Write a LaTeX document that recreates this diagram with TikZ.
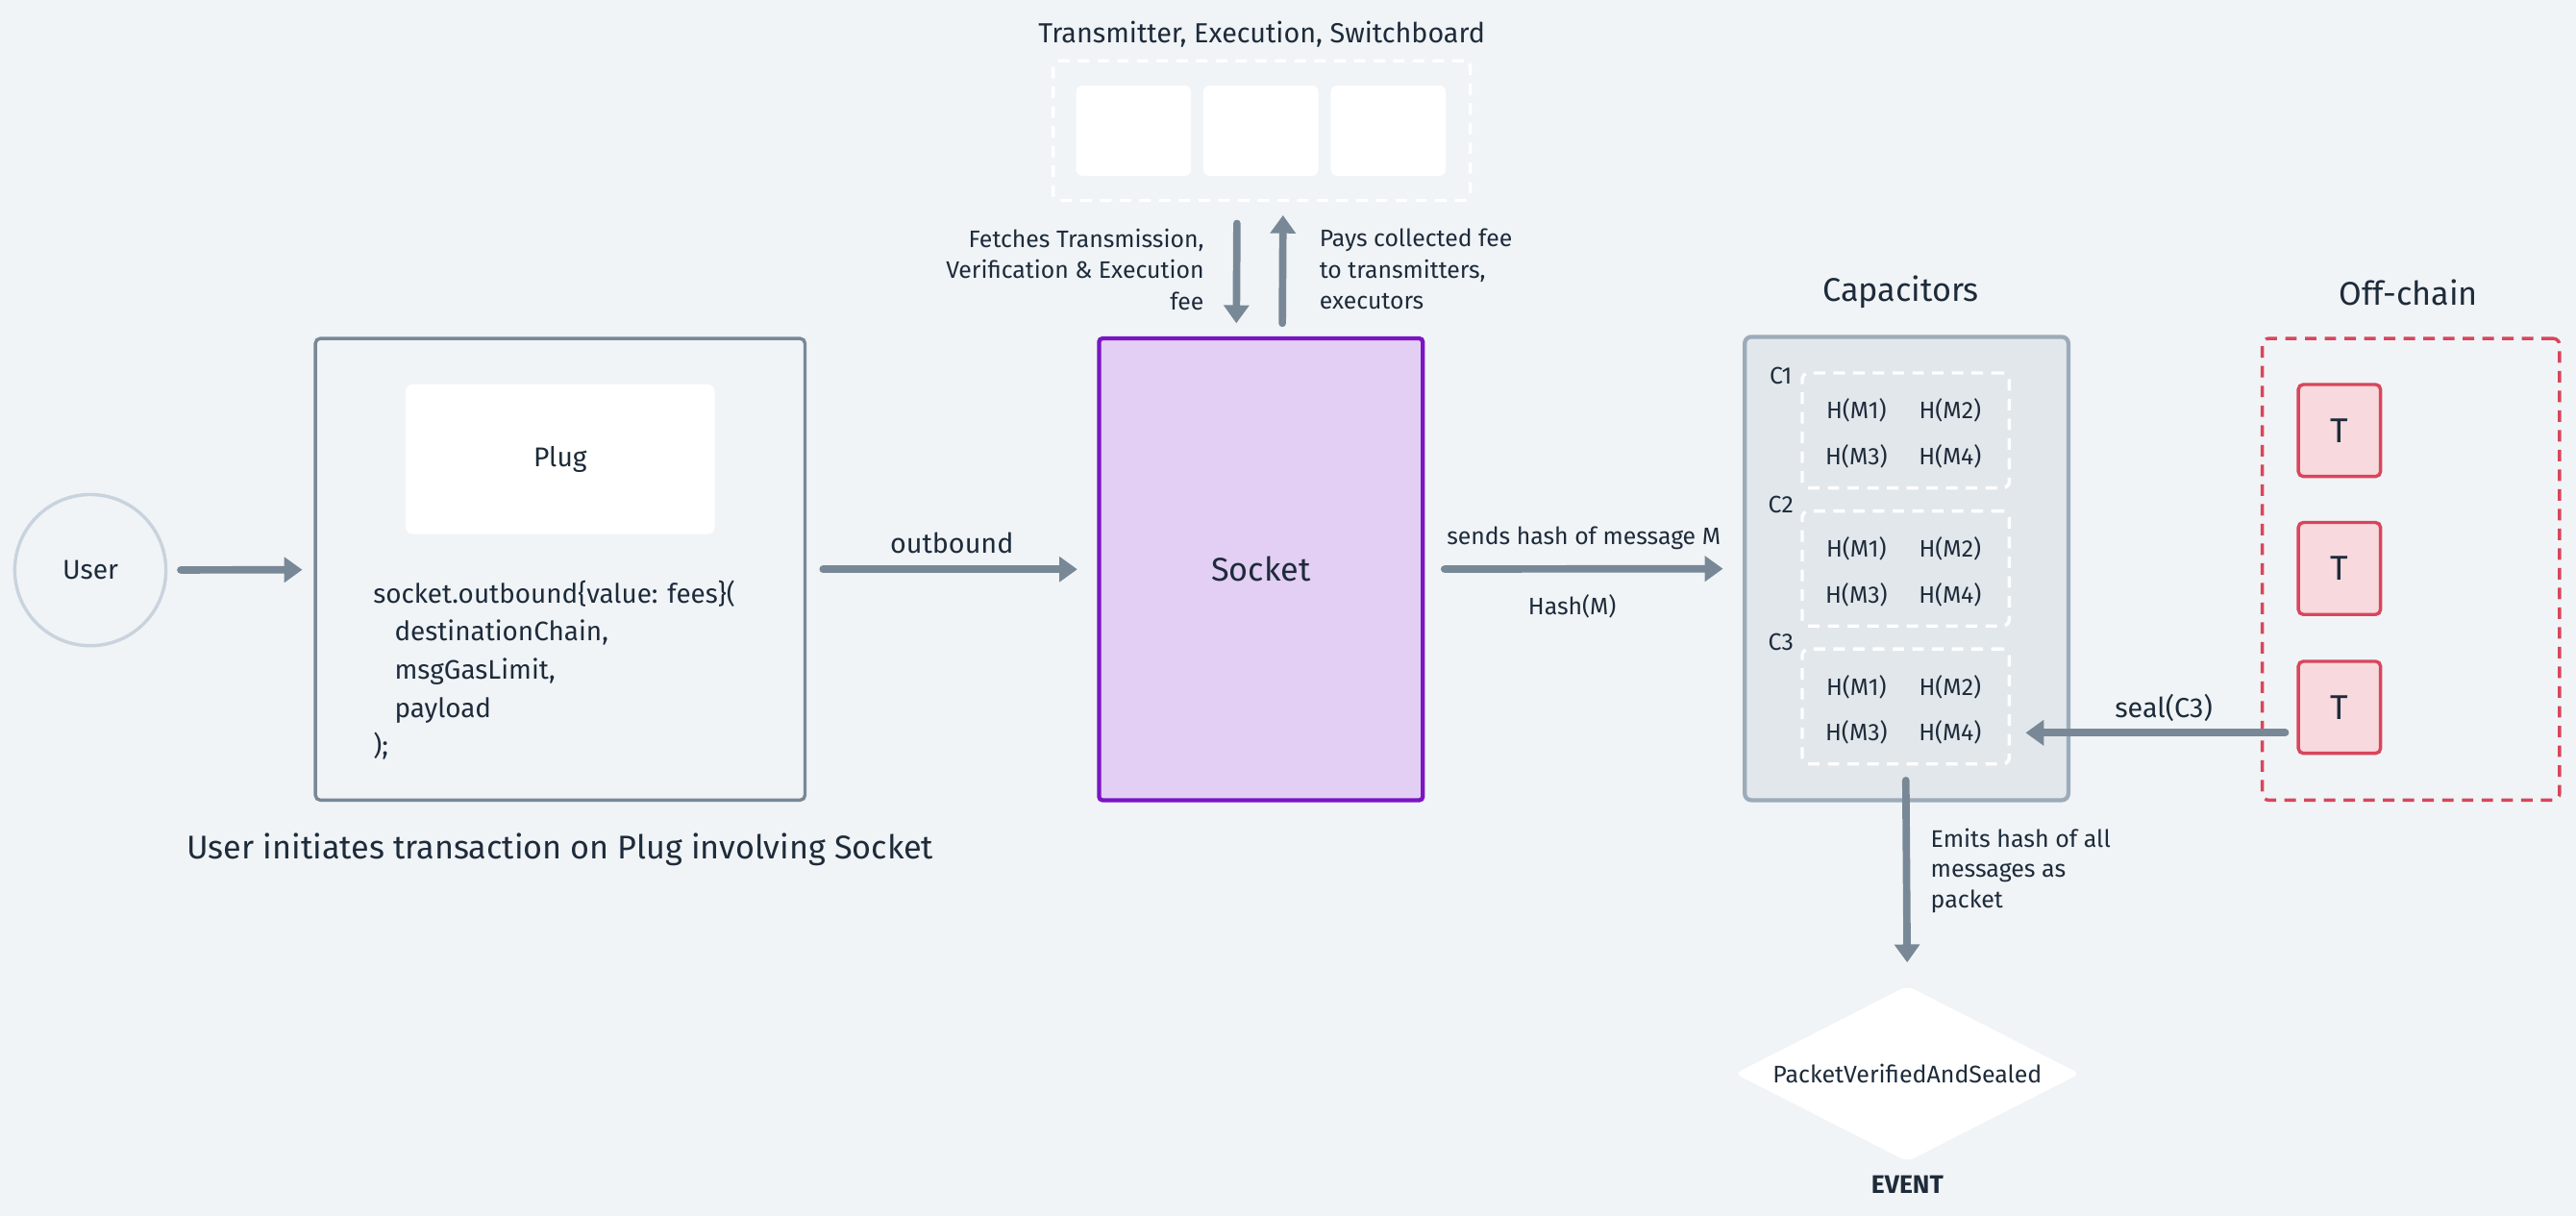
\documentclass[tikz,border=0pt]{standalone}
\usepackage{fontspec}
\setmainfont{Fira Sans}
\usetikzlibrary{arrows.meta,shapes.geometric}

\definecolor{bgcol}{HTML}{F0F4F7}
\definecolor{ink}{HTML}{1E2B3A}
\definecolor{flowgrey}{HTML}{788896}
\definecolor{usergrey}{HTML}{C9D3DD}
\definecolor{socketfill}{HTML}{E2CFF3}
\definecolor{socketline}{HTML}{7B15C4}
\definecolor{capfill}{HTML}{E2E7EC}
\definecolor{capline}{HTML}{9BABB9}
\definecolor{offred}{HTML}{D8465B}
\definecolor{tfill}{HTML}{F7D9DE}

\begin{document}
\begin{tikzpicture}[x=1pt, y=-1pt,
	every node/.style={text=ink},
	flow/.style={draw=flowgrey, line width=4.5pt, line cap=round, -{Triangle[width=15pt,length=11pt]}},
	smalltext/.style={font=\fontsize{14.5}{19}\selectfont, inner sep=0pt},
	midtext/.style={font=\fontsize{16.8}{20}\selectfont, inner sep=0pt},
	bigtext/.style={font=\fontsize{20}{24}\selectfont, inner sep=0pt},
	usercircle/.style={circle, draw=usergrey, line width=2pt, minimum size=92pt, inner sep=0pt, font=\fontsize{16.5}{18}\selectfont},
	plugbox/.style={draw=flowgrey, line width=2pt, rounded corners=3pt, minimum width=298pt, minimum height=281pt},
	whitebox/.style={fill=white, rounded corners=4pt, inner sep=0pt},
	socketbox/.style={draw=socketline, fill=socketfill, line width=2.5pt, rounded corners=2pt, minimum width=197pt, minimum height=281pt, font=\fontsize{20}{24}\selectfont},
	capbox/.style={draw=capline, fill=capfill, line width=2.5pt, rounded corners=4pt, minimum width=197pt, minimum height=282pt},
	dashgroup/.style={draw=white, line width=2pt, dash pattern=on 7pt off 5pt, rounded corners=4pt, minimum width=126pt, minimum height=70pt},
	redgroup/.style={draw=offred, line width=2pt, dash pattern=on 7pt off 5pt, rounded corners=4pt, minimum width=181pt, minimum height=281pt},
	tbox/.style={draw=offred, fill=tfill, line width=2pt, rounded corners=3pt, minimum width=50pt, minimum height=56pt, font=\fontsize{21}{24}\selectfont},
	eventdiamond/.style={diamond, aspect=1.96, fill=white, rounded corners=4pt, minimum width=210pt, minimum height=107pt, inner sep=0pt, font=\fontsize{14.6}{18}\selectfont}]

	\fill[bgcol] (0,0) rectangle (1568,740);

	% user and plug
	\node[usercircle] (user) at (55,347) {User};
	\node[plugbox] (plug) at (341,346.5) {};
	\node[whitebox, minimum width=188pt, minimum height=91pt, font=\fontsize{16.5}{18}\selectfont] (plugname) at (341,279.5) {Plug};
	\node[anchor=north west, align=left, inner sep=0pt, font=\fontsize{16.3}{23.2}\selectfont] (call) at (227,353) {socket.outbound\{value: fees\}(\\
		\hspace*{13pt}destinationChain,\\
		\hspace*{13pt}msgGasLimit,\\
		\hspace*{13pt}payload\\
		);};
	\node[font=\fontsize{20}{24}\selectfont, inner sep=0pt] (plugcaption) at (341,517) {User initiates transaction on Plug involving Socket};

	% socket and fee boxes
	\node[socketbox] (socket) at (767.5,346.5) {Socket};
	\node[midtext] (switchtitle) at (768,21) {Transmitter, Execution, Switchboard};
	\node[dashgroup, draw=white, minimum width=254pt, minimum height=85pt] (switch) at (768,79.5) {};
	\node[whitebox, minimum width=70pt, minimum height=55pt] (transmitter) at (690,79.5) {};
	\node[whitebox, minimum width=70pt, minimum height=55pt] (execution) at (767.5,79.5) {};
	\node[whitebox, minimum width=70pt, minimum height=55pt] (switchboard) at (845,79.5) {};
	\node[smalltext, anchor=east, align=right] (feelbl) at (733,164) {Fetches Transmission,\\Verification \& Execution\\fee};
	\node[smalltext, anchor=west, align=left] (paylbl) at (803,164) {Pays collected fee\\to transmitters,\\executors};

	% capacitors
	\node[capbox] (caps) at (1160.5,346) {};
	\node[bigtext] (captitle) at (1157,178) {Capacitors};
	\node[dashgroup] (grp1) at (1160,262) {};
	\node[dashgroup] (grp2) at (1160,346) {};
	\node[dashgroup] (grp3) at (1160,430) {};
	\node[smalltext] (c1) at (1084,229) {C1};
	\node[smalltext] (c2) at (1084,307) {C2};
	\node[smalltext] (c3) at (1084,391) {C3};
	\node[smalltext] (g1m1) at (1130,250) {H(M1)};
	\node[smalltext] (g1m2) at (1187,250) {H(M2)};
	\node[smalltext] (g1m3) at (1130,278) {H(M3)};
	\node[smalltext] (g1m4) at (1187,278) {H(M4)};
	\node[smalltext] (g2m1) at (1130,334) {H(M1)};
	\node[smalltext] (g2m2) at (1187,334) {H(M2)};
	\node[smalltext] (g2m3) at (1130,362) {H(M3)};
	\node[smalltext] (g2m4) at (1187,362) {H(M4)};
	\node[smalltext] (g3m1) at (1130,418) {H(M1)};
	\node[smalltext] (g3m2) at (1187,418) {H(M2)};
	\node[smalltext] (g3m3) at (1130,446) {H(M3)};
	\node[smalltext] (g3m4) at (1187,446) {H(M4)};

	% off-chain
	\node[redgroup] (offchain) at (1467.5,346.5) {};
	\node[bigtext] (offtitle) at (1466,178) {Off-chain};
	\node[tbox] (t1) at (1424,262) {T};
	\node[tbox] (t2) at (1424,346) {T};
	\node[tbox] (t3) at (1424,430.5) {T};

	% event
	\node[eventdiamond] (event) at (1161,653.5) {PacketVerifiedAndSealed};
	\node[inner sep=0pt, font=\fontsize{15.5}{18}\selectfont\bfseries] (eventlbl) at (1161,721) {EVENT};
	\node[smalltext, anchor=west, align=left, font=\fontsize{14.6}{18.5}\selectfont] (emitlbl) at (1175,530) {Emits hash of all\\messages as\\packet};

	% connectors
	\draw[flow, shorten <=8pt, shorten >=7pt] (user) -- (plug);
	\draw[flow, shorten <=10pt, shorten >=12pt] (plug) -- node[midtext, yshift=16pt] (outlbl) {outbound} (socket);
	\draw[flow, shorten <=12pt, shorten >=12pt] (socket) -- node[smalltext, yshift=19pt] (sendlbl) {sends hash of message M} node[smalltext, xshift=-7pt, yshift=-23pt] (hashlbl) {Hash(M)} (caps);
	\draw[flow, shorten <=13pt, shorten >=8pt] ([xshift=-15pt]switch.south) -- ([xshift=-15pt]socket.north);
	\draw[flow, shorten <=8pt, shorten >=8pt] ([xshift=13pt]socket.north) -- ([xshift=13pt]switch.south);
	\draw[flow, shorten <=7pt, shorten >=9pt] (t3.west |- g3m4) -- node[midtext, xshift=6pt, yshift=15pt] (seallbl) {seal(C3)} (grp3.east |- g3m4);
	\draw[flow, shorten <=9pt, shorten >=14pt] (grp3.south) -- (event.north);
\end{tikzpicture}
\end{document}
